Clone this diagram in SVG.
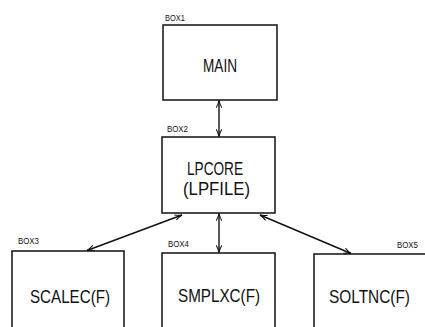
<svg xmlns="http://www.w3.org/2000/svg" width="425" height="327" viewBox="0 0 425 327">
<defs>
<style>
.box{fill:none;stroke:#111;stroke-width:1.5}
.lbl{font-family:"Liberation Sans",Arial,sans-serif;font-size:8.5px;fill:#111}
.txt{font-family:"Liberation Sans",Arial,sans-serif;font-size:18px;fill:#111;text-anchor:middle}
.con{fill:none;stroke:#111;stroke-width:1.4;marker-start:url(#ah);marker-end:url(#ah)}
</style>
<marker id="ah" viewBox="0 0 10 8" refX="9.5" refY="4" markerWidth="8" markerHeight="6.4" markerUnits="userSpaceOnUse" orient="auto-start-reverse">
<path d="M0.5,0.5 Q5,3 9.5,4 Q5,5 0.5,7.5" fill="none" stroke="#111" stroke-width="1.3"/>
</marker>
</defs>
<rect width="425" height="327" fill="#fff"/>
<g id="box1">
<text class="lbl" x="165" y="21" textLength="20" lengthAdjust="spacingAndGlyphs">BOX1</text>
<rect class="box" x="163" y="25" width="114" height="75"/>
<text class="txt" x="220" y="72" textLength="34" lengthAdjust="spacingAndGlyphs">MAIN</text>
</g>
<g id="box2">
<text class="lbl" x="167" y="132" textLength="21" lengthAdjust="spacingAndGlyphs">BOX2</text>
<rect class="box" x="162" y="137" width="113" height="76"/>
<text class="txt" x="215" y="175" textLength="56" lengthAdjust="spacingAndGlyphs">LPCORE</text>
<text class="txt" x="216.5" y="195" textLength="67" lengthAdjust="spacingAndGlyphs">(LPFILE)</text>
</g>
<g id="box3">
<text class="lbl" x="18" y="244" textLength="21" lengthAdjust="spacingAndGlyphs">BOX3</text>
<rect class="box" x="12" y="251" width="112" height="90"/>
<text class="txt" x="70" y="303" textLength="80" lengthAdjust="spacingAndGlyphs">SCALEC(F)</text>
</g>
<g id="box4">
<text class="lbl" x="168" y="247" textLength="21" lengthAdjust="spacingAndGlyphs">BOX4</text>
<rect class="box" x="162" y="253" width="113" height="90"/>
<text class="txt" x="219" y="302" textLength="82" lengthAdjust="spacingAndGlyphs">SMPLXC(F)</text>
</g>
<g id="box5">
<text class="lbl" x="397" y="248" textLength="21" lengthAdjust="spacingAndGlyphs">BOX5</text>
<rect class="box" x="314" y="254" width="130" height="90"/>
<text class="txt" x="369.5" y="303" textLength="81" lengthAdjust="spacingAndGlyphs">SOLTNC(F)</text>
</g>
<g id="connectors">
<line class="con" x1="219" y1="100.5" x2="219" y2="136.5"/>
<line class="con" x1="182" y1="215" x2="87" y2="250.5"/>
<line class="con" x1="219" y1="213.5" x2="219" y2="252.5"/>
<line class="con" x1="260" y1="215" x2="351" y2="253.5"/>
</g>
</svg>
